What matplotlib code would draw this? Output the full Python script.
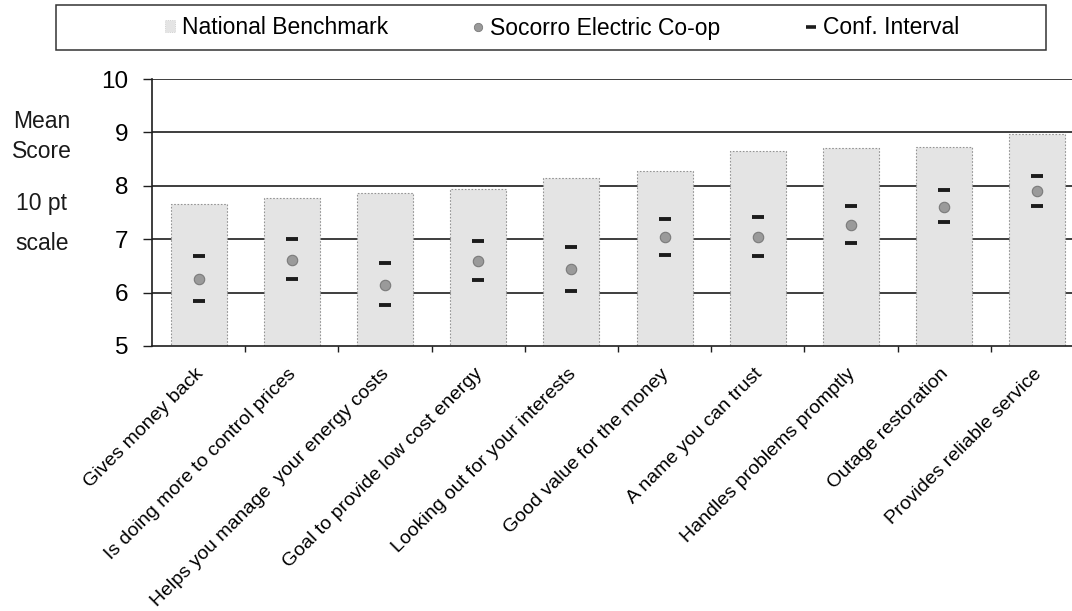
import matplotlib
matplotlib.use("Agg")
import matplotlib.pyplot as plt
import matplotlib.transforms as mtransforms
from matplotlib.lines import Line2D
from matplotlib.patches import Patch, Rectangle
import numpy as np

plt.rcParams["font.family"] = ["Liberation Sans", "DejaVu Sans"]

# 데이터
categories = [
    "Gives money back",
    "Is doing more to control prices",
    "Helps you manage  your energy costs",
    "Goal to provide low cost energy",
    "Looking out for your interests",
    "Good value for the money",
    "A name you can trust",
    "Handles problems promptly",
    "Outage restoration",
    "Provides reliable service",
]
national = [7.65, 7.78, 7.86, 7.94, 8.14, 8.28, 8.65, 8.70, 8.72, 8.97]
socorro = [6.25, 6.61, 6.15, 6.59, 6.44, 7.05, 7.05, 7.27, 7.61, 7.90]
ci_upper = [6.68, 7.00, 6.55, 6.97, 6.85, 7.38, 7.42, 7.63, 7.92, 8.19]
ci_lower = [5.84, 6.25, 5.77, 6.23, 6.03, 6.70, 6.69, 6.93, 7.32, 7.62]
y_ticks = [5, 6, 7, 8, 9, 10]

BAR_COLOR = "#e4e4e4"
BAR_EDGE = "#949494"
DOT_COLOR = "#9a9a9a"
DASH_COLOR = "#1c1c1c"
LINE_COLOR = "#1e1e1e"

W, H = 1072, 611
fig = plt.figure(figsize=(W / 100, H / 100), dpi=100)
fig.patch.set_facecolor("white")

ax = fig.add_axes([152 / W, 1 - 346 / H, (W - 152) / W, 267 / H])
x = np.arange(len(categories))

# 가로 그리드 (막대 뒤)
for yv in y_ticks[1:]:
    ax.axhline(yv, color=LINE_COLOR, lw=1.2, zorder=0)

ax.bar(x, national, width=0.6, color=BAR_COLOR, edgecolor=BAR_EDGE,
       linestyle=(0, (1.5, 1.5)), linewidth=0.8, zorder=1)

ax.plot(x, ci_upper, linestyle="none", marker="_", markersize=8.5,
        markeredgewidth=2.8, color=DASH_COLOR, zorder=3)
ax.plot(x, ci_lower, linestyle="none", marker="_", markersize=8.5,
        markeredgewidth=2.8, color=DASH_COLOR, zorder=3)
ax.plot(x, socorro, linestyle="none", marker="o", markersize=7.5,
        markerfacecolor=DOT_COLOR, markeredgecolor="#7a7a7a",
        markeredgewidth=0.8, zorder=3)

ax.set_ylim(5, 10)
ax.set_xlim(-0.5, -0.5 + (W - 152) / 93.2)

for side in ["top", "right"]:
    ax.spines[side].set_visible(False)
for side in ["left", "bottom"]:
    ax.spines[side].set_color(LINE_COLOR)
    ax.spines[side].set_linewidth(1.2)
    ax.spines[side].set_zorder(4)

ax.set_yticks(y_ticks)
ax.set_yticklabels([str(v) for v in y_ticks], fontsize=17.5)
ax.tick_params(axis="y", direction="out", length=6.5, width=1,
               color=LINE_COLOR, pad=10.5)

ax.set_xticks(x)
ax.set_xticklabels(categories, rotation=45, ha="right",
                   rotation_mode="anchor", fontsize=14)
ax.set_xticks(np.arange(len(categories) - 1) + 0.5, minor=True)
ax.tick_params(axis="x", which="major", length=0, pad=14)
ax.tick_params(axis="x", which="minor", direction="out", length=4,
               width=1, color=LINE_COLOR)
# 라벨을 조금 왼쪽으로
shift = mtransforms.ScaledTranslation(-3 / 72, 0, fig.dpi_scale_trans)
for lab in ax.get_xticklabels():
    lab.set_transform(lab.get_transform() + shift)

# 축 제목 (왼쪽)
for txt, base in [("Mean", 128), ("Score", 158), ("10 pt", 210), ("scale", 250)]:
    fig.text(42 / W, 1 - base / H, txt, ha="center", va="baseline",
             fontsize=16.5, color="#1a1a1a")

# 범례
box = Rectangle((56 / W, 1 - 50 / H), (1046 - 56) / W, 45 / H,
                transform=fig.transFigure, fill=False,
                edgecolor="#333333", linewidth=1.1)
fig.add_artist(box)

handles = [
    Patch(facecolor=BAR_COLOR, edgecolor="#c8c8c8", linestyle=":",
          linewidth=0.6),
    Line2D([], [], linestyle="none", marker="o", markersize=6,
           markerfacecolor=DOT_COLOR, markeredgecolor="#7a7a7a",
           markeredgewidth=0.6),
    Line2D([], [], linestyle="none", marker="_", markersize=7.5,
           markeredgewidth=2.6, color=DASH_COLOR),
]
labels = ["National Benchmark", "Socorro Electric Co-op", "Conf. Interval"]
fig.legend(handles, labels, loc="center", ncol=3, frameon=False,
           bbox_to_anchor=(562 / W, 1 - 28 / H), fontsize=16.5,
           handlelength=0.45, handleheight=0.45, handletextpad=0.3,
           columnspacing=3.7, borderpad=0)

fig.savefig("out.png", dpi=100, facecolor="white")
